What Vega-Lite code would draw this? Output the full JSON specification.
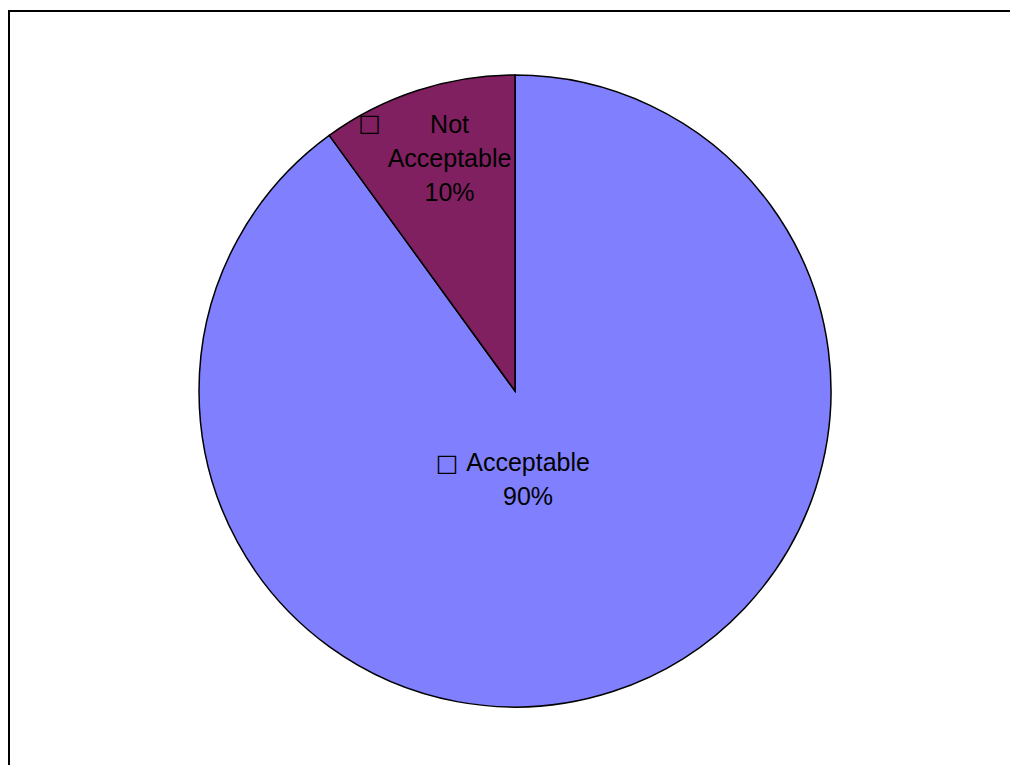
{
  "$schema": "https://vega.github.io/schema/vega-lite/v6.json",
  "width": 1012,
  "height": 760,
  "autosize": {"type": "none"},
  "padding": {"left": 9, "top": 11, "right": -11, "bottom": -6},
  "background": "white",
  "config": {"view": {"stroke": null}},
  "data": {
    "values": [
      {"category": "Acceptable", "value": 90, "label": "Acceptable\n90%"},
      {"category": "Not Acceptable", "value": 10, "label": "Not\nAcceptable\n10%"}
    ]
  },
  "layer": [
    {
      "mark": {"type": "rect", "fill": null, "fillOpacity": 0, "stroke": "black", "strokeWidth": 2},
      "encoding": {}
    },
    {
      "mark": {"type": "arc", "radius": 316, "stroke": "black", "strokeWidth": 1.5},
      "encoding": {
        "theta": {"field": "value", "type": "quantitative", "stack": true},
        "order": {"field": "category", "type": "ordinal", "sort": "ascending"},
        "color": {
          "field": "category",
          "type": "nominal",
          "scale": {"domain": ["Acceptable", "Not Acceptable"], "range": ["#8080FF", "#802060"]},
          "legend": null
        }
      }
    },
    {
      "mark": {"type": "text", "radius": 94, "dx": -16, "dy": -17, "font": "Liberation Sans", "fontSize": 25, "lineHeight": 34, "lineBreak": "\n", "align": "center", "baseline": "middle", "color": "black"},
      "encoding": {
        "theta": {"field": "value", "type": "quantitative", "stack": true},
        "order": {"field": "category", "type": "ordinal", "sort": "ascending"},
        "text": {"condition": {"test": "datum.category === 'Acceptable'", "field": "label"}, "value": ""}
      }
    },
    {
      "mark": {"type": "text", "radius": 241, "dx": 9, "dy": -37, "font": "Liberation Sans", "fontSize": 25, "lineHeight": 34, "lineBreak": "\n", "align": "center", "baseline": "middle", "color": "black"},
      "encoding": {
        "theta": {"field": "value", "type": "quantitative", "stack": true},
        "order": {"field": "category", "type": "ordinal", "sort": "ascending"},
        "text": {"condition": {"test": "datum.category === 'Not Acceptable'", "field": "label"}, "value": ""}
      }
    },
    {
      "mark": {"type": "text", "radius": 94, "dx": -97, "dy": -16, "font": "DejaVu Sans", "fontSize": 24, "fontWeight": "bold", "align": "center", "baseline": "middle", "color": "black"},
      "encoding": {
        "theta": {"field": "value", "type": "quantitative", "stack": true},
        "order": {"field": "category", "type": "ordinal", "sort": "ascending"},
        "text": {"condition": {"test": "datum.category === 'Acceptable'", "value": "□"}, "value": ""}
      }
    },
    {
      "mark": {"type": "text", "radius": 241, "dx": -71, "dy": -38, "font": "DejaVu Sans", "fontSize": 24, "fontWeight": "bold", "align": "center", "baseline": "middle", "color": "black"},
      "encoding": {
        "theta": {"field": "value", "type": "quantitative", "stack": true},
        "order": {"field": "category", "type": "ordinal", "sort": "ascending"},
        "text": {"condition": {"test": "datum.category === 'Not Acceptable'", "value": "□"}, "value": ""}
      }
    }
  ]
}
